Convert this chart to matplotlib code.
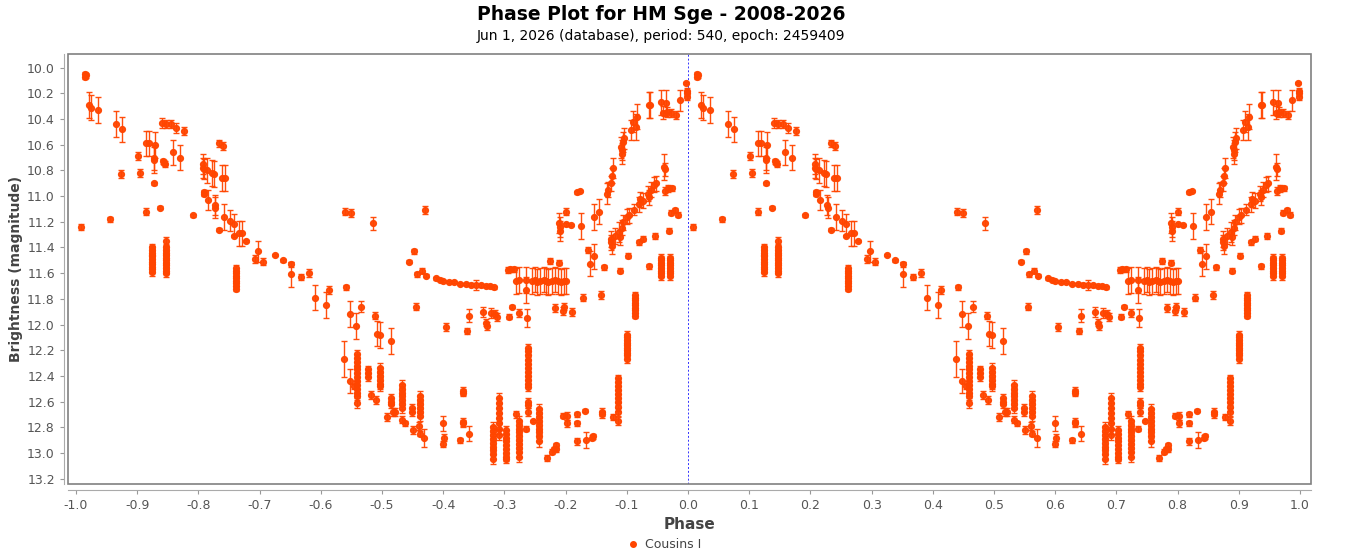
import numpy as np
import matplotlib
matplotlib.use("Agg")
import matplotlib.pyplot as plt
from matplotlib.lines import Line2D
from matplotlib.patches import Rectangle

# observations folded on one cycle (phase -1..0), the plot repeats them at phase+1
phase = [
    -0.992, -0.985, -0.984, -0.985, -0.978, -0.976, -0.964, -0.944, -0.934, -0.924,
    -0.926, -0.898, -0.896, -0.886, -0.886, -0.881, -0.873, -0.871, -0.872, -0.873,
    -0.876, -0.876, -0.876, -0.876, -0.876, -0.876, -0.876, -0.876, -0.876, -0.876, -0.876,
    -0.8625, -0.853,
    -0.853, -0.853, -0.853, -0.853, -0.853, -0.853, -0.853, -0.853, -0.853, -0.853, -0.853,
    -0.860, -0.853, -0.845, -0.836, -0.823, -0.858, -0.856, -0.854, -0.842, -0.830,
    -0.809, -0.792, -0.792, -0.790, -0.786, -0.791, -0.790, -0.784, -0.777, -0.774,
    -0.766, -0.760, -0.773, -0.772, -0.766, -0.762, -0.757, -0.758, -0.749, -0.742,
    -0.742, -0.733, -0.729, -0.722,
    -0.738, -0.738, -0.738, -0.738, -0.738, -0.738, -0.738, -0.738, -0.738,
    -0.707, -0.702, -0.694, -0.675, -0.661, -0.648, -0.648, -0.632, -0.620, -0.610,
    -0.592, -0.587, -0.561, -0.550, -0.515, -0.5595, -0.553, -0.542, -0.535, -0.5115,
    -0.508, -0.503, -0.485, -0.5616, -0.553, -0.546,
    -0.540, -0.540, -0.540, -0.540, -0.540, -0.540, -0.540, -0.540, -0.540, -0.540, -0.540, -0.540, -0.540,
    -0.523, -0.523, -0.523, -0.5175, -0.5105,
    -0.504, -0.504, -0.504, -0.504, -0.504, -0.504,
    -0.491, -0.486, -0.486, -0.486, -0.4816, -0.478,
    -0.4675, -0.4675, -0.4675, -0.4675, -0.4675, -0.4675, -0.4675, -0.467,
    -0.462, -0.4506, -0.4506, -0.449,
    -0.438, -0.438, -0.438, -0.438, -0.438, -0.438, -0.439, -0.438, -0.4305,
    -0.430, -0.447, -0.4555, -0.444, -0.442, -0.434, -0.428,
    -0.412, -0.405, -0.3995, -0.391, -0.383, -0.373, -0.362, -0.354, -0.346, -0.3385,
    -0.330, -0.323, -0.317,
    -0.3946, -0.3576, -0.361, -0.335, -0.330, -0.329, -0.322, -0.3146, -0.3125, -0.292,
    -0.287, -0.276, -0.263,
    -0.2934, -0.291, -0.285, -0.281, -0.276, -0.265, -0.265,
    -0.255, -0.250, -0.246, -0.241, -0.236, -0.232, -0.228, -0.225, -0.222, -0.218,
    -0.213, -0.211, -0.208, -0.203, -0.199,
    -0.368, -0.368, -0.368, -0.368, -0.357, -0.372, -0.401, -0.398, -0.401,
    -0.318, -0.318, -0.318, -0.318, -0.318, -0.318, -0.318, -0.318, -0.318,
    -0.3086, -0.3086, -0.3086, -0.3086, -0.3086, -0.3086, -0.3086, -0.3086,
    -0.2977, -0.2977, -0.2977, -0.2977, -0.2977, -0.2977, -0.2977, -0.2977, -0.2977,
    -0.281,
    -0.2755, -0.2755, -0.2755, -0.2755, -0.2755, -0.2755, -0.2755, -0.2755, -0.2755, -0.2755,
    -0.265,
    -0.2607, -0.2607, -0.2607, -0.2607, -0.2607, -0.2607, -0.2607, -0.2607, -0.2607, -0.2607, -0.2607,
    -0.2607, -0.2607, -0.2607, -0.254,
    -0.2433, -0.2433, -0.2433, -0.2433, -0.2433, -0.2433, -0.2433, -0.2433, -0.2433,
    -0.2307, -0.2226, -0.219, -0.216, -0.216, -0.2035, -0.198, -0.198, -0.182, -0.182,
    -0.182, -0.167, -0.157, -0.155, -0.168, -0.141, -0.141, -0.1224,
    -0.115, -0.115, -0.115, -0.115, -0.115, -0.115, -0.115, -0.115, -0.115, -0.115,
    -0.099, -0.099, -0.099, -0.099, -0.099, -0.099, -0.099, -0.099, -0.099, -0.099,
    -0.086, -0.086, -0.086, -0.086, -0.086, -0.086, -0.086, -0.086, -0.086,
    -0.217, -0.2035, -0.202, -0.189, -0.171, -0.1425, -0.137, -0.1115, -0.0985, -0.0805,
    -0.073, -0.0637, -0.054, -0.0305,
    -0.0446, -0.0446, -0.0446, -0.0446, -0.0446, -0.0446, -0.0446, -0.0446,
    -0.030, -0.030, -0.030, -0.030, -0.030, -0.030, -0.030, -0.030,
    -0.027, -0.021, -0.016, -0.211, -0.209, -0.209, -0.200, -0.199, -0.1915, -0.175,
    -0.182, -0.177, -0.163, -0.1605, -0.154, -0.1535, -0.146,
    -0.133, -0.130, -0.126, -0.124, -0.122, -0.109, -0.1066, -0.105, -0.108, -0.107,
    -0.093, -0.090, -0.085, -0.083, -0.064, -0.0615, -0.0446, -0.040, -0.0354, -0.034,
    -0.028, -0.0196, -0.0125, -0.004, -0.002, -0.002, -0.002,
    -0.126, -0.1246, -0.126, -0.119, -0.113, -0.111, -0.107, -0.1067, -0.099, -0.096,
    -0.0877, -0.0795, -0.078, -0.074, -0.066, -0.0637, -0.060, -0.055, -0.053,
    -0.0386, -0.038, -0.038, -0.033, -0.026,
]
mag = [
    11.24, 10.05, 10.06, 10.07, 10.29, 10.31, 10.33, 11.18, 10.44, 10.48,
    10.83, 10.69, 10.82, 11.12, 10.59, 10.59, 10.70, 10.60, 10.72, 10.90,
    11.40, 11.42, 11.44, 11.46, 11.47, 11.49, 11.51, 11.53, 11.55, 11.57, 11.59,
    11.09, 11.35,
    11.40, 11.42, 11.44, 11.46, 11.48, 11.50, 11.52, 11.54, 11.56, 11.58, 11.60,
    10.43, 10.44, 10.44, 10.47, 10.49, 10.73, 10.74, 10.75, 10.66, 10.70,
    11.15, 10.75, 10.78, 10.79, 10.80, 10.97, 10.98, 11.03, 10.82, 10.83,
    10.59, 10.61, 11.07, 11.09, 11.26, 10.86, 10.86, 11.16, 11.19, 11.22,
    11.31, 11.29, 11.29, 11.35,
    11.56, 11.58, 11.60, 11.62, 11.64, 11.66, 11.68, 11.70, 11.72,
    11.49, 11.43, 11.51, 11.46, 11.50, 11.53, 11.61, 11.63, 11.60, 11.79,
    11.85, 11.73, 11.12, 11.13, 11.21, 11.71, 11.92, 12.01, 11.86, 11.93,
    12.07, 12.08, 12.13, 12.27, 12.44, 12.48,
    12.23, 12.26, 12.29, 12.32, 12.35, 12.38, 12.41, 12.44, 12.47, 12.50, 12.53, 12.56, 12.61,
    12.35, 12.38, 12.41, 12.55, 12.59,
    12.34, 12.37, 12.40, 12.43, 12.46, 12.48,
    12.72, 12.57, 12.60, 12.62, 12.68, 12.68,
    12.47, 12.50, 12.53, 12.56, 12.59, 12.62, 12.65, 12.74,
    12.77, 12.65, 12.68, 12.82,
    12.56, 12.59, 12.62, 12.65, 12.68, 12.71, 12.79, 12.85, 12.88,
    11.11, 11.43, 11.51, 11.86, 11.61, 11.58, 11.62,
    11.64, 11.65, 11.66, 11.67, 11.67, 11.685, 11.686, 11.69, 11.69, 11.695,
    11.70, 11.70, 11.71,
    12.02, 11.93, 12.05, 11.90, 11.985, 12.01, 11.91, 11.915, 11.94, 11.94,
    11.86, 11.91, 11.95,
    11.575, 11.57, 11.57, 11.66, 11.655, 11.655, 11.73,
    11.66, 11.65, 11.67, 11.66, 11.65, 11.66, 11.67, 11.505, 11.66, 11.65,
    11.66, 11.52, 11.67, 11.66, 11.66,
    12.52, 12.53, 12.76, 12.77, 12.85, 12.90, 12.77, 12.88, 12.93,
    12.80, 12.83, 12.86, 12.89, 12.92, 12.95, 12.98, 13.01, 13.05,
    12.57, 12.61, 12.65, 12.69, 12.73, 12.77, 12.81, 12.86,
    12.82, 12.85, 12.88, 12.91, 12.94, 12.97, 13.00, 13.03, 13.05,
    12.70,
    12.75, 12.78, 12.81, 12.84, 12.87, 12.90, 12.93, 12.96, 12.99, 13.03,
    12.81,
    12.18, 12.21, 12.24, 12.28, 12.31, 12.34, 12.37, 12.40, 12.43, 12.46, 12.49,
    12.60, 12.63, 12.68, 12.75,
    12.66, 12.69, 12.72, 12.75, 12.78, 12.81, 12.84, 12.87, 12.91,
    13.04, 12.99, 12.97, 12.94, 12.97, 12.71, 12.71, 12.77, 12.70, 12.77,
    12.91, 12.90, 12.88, 12.87, 12.67, 12.68, 12.70, 12.72,
    12.42, 12.45, 12.48, 12.51, 12.54, 12.57, 12.60, 12.64, 12.68, 12.75,
    12.08, 12.10, 12.12, 12.14, 12.16, 12.18, 12.20, 12.22, 12.24, 12.27,
    11.77, 11.79, 11.81, 11.83, 11.85, 11.87, 11.89, 11.91, 11.93,
    11.87, 11.895, 11.86, 11.90, 11.79, 11.77, 11.555, 11.58, 11.465, 11.36,
    11.33, 11.545, 11.31, 11.27,
    11.48, 11.50, 11.52, 11.54, 11.56, 11.58, 11.60, 11.62,
    11.48, 11.50, 11.52, 11.54, 11.56, 11.58, 11.60, 11.62,
    11.13, 11.11, 11.145, 11.21, 11.24, 11.27, 11.12, 11.22, 11.225, 11.23,
    10.97, 10.96, 11.42, 11.525, 11.47, 11.16, 11.12,
    10.98, 10.95, 10.90, 10.84, 10.78, 10.62, 10.58, 10.55, 10.67, 10.64,
    10.485, 10.42, 10.46, 10.38, 10.29, 10.29, 10.27, 10.35, 10.275, 10.345,
    10.35, 10.37, 10.255, 10.12, 10.18, 10.20, 10.23,
    11.335, 11.39, 11.36, 11.31, 11.28, 11.32, 11.245, 11.205, 11.16, 11.15,
    11.105, 11.065, 11.025, 11.035, 10.98, 11.01, 10.95, 10.91, 10.90,
    10.775, 10.79, 10.96, 10.94, 10.94,
]
err = [
    0.02, 0.02, 0.02, 0.02, 0.10, 0.10, 0.10, 0.02, 0.10, 0.10,
    0.03, 0.03, 0.03, 0.03, 0.10, 0.10, 0.10, 0.10, 0.10, 0.01,
    0.03, 0.03, 0.03, 0.03, 0.03, 0.03, 0.03, 0.03, 0.03, 0.03, 0.03,
    0.01, 0.03,
    0.03, 0.03, 0.03, 0.03, 0.03, 0.03, 0.03, 0.03, 0.03, 0.03, 0.03,
    0.04, 0.03, 0.03, 0.04, 0.03, 0.02, 0.02, 0.02, 0.10, 0.10,
    0.01, 0.08, 0.08, 0.08, 0.10, 0.02, 0.02, 0.08, 0.10, 0.10,
    0.03, 0.03, 0.08, 0.08, 0.01, 0.10, 0.10, 0.10, 0.08, 0.08,
    0.01, 0.10, 0.10, 0.01,
    0.02, 0.02, 0.02, 0.02, 0.02, 0.02, 0.02, 0.02, 0.02,
    0.03, 0.08, 0.03, 0.01, 0.01, 0.02, 0.10, 0.02, 0.03, 0.10,
    0.10, 0.03, 0.03, 0.03, 0.05, 0.02, 0.10, 0.10, 0.04, 0.03,
    0.10, 0.10, 0.10, 0.14, 0.09, 0.02,
    0.03, 0.03, 0.03, 0.03, 0.03, 0.03, 0.03, 0.03, 0.03, 0.03, 0.03, 0.03, 0.04,
    0.03, 0.03, 0.03, 0.03, 0.03,
    0.04, 0.04, 0.04, 0.04, 0.04, 0.04,
    0.03, 0.03, 0.03, 0.03, 0.03, 0.03,
    0.04, 0.04, 0.04, 0.04, 0.04, 0.04, 0.04, 0.03,
    0.02, 0.03, 0.03, 0.03,
    0.04, 0.04, 0.04, 0.04, 0.04, 0.04, 0.03, 0.02, 0.07,
    0.03, 0.02, 0.01, 0.03, 0.02, 0.02, 0.01,
    0.01, 0.01, 0.01, 0.01, 0.01, 0.01, 0.01, 0.01, 0.04, 0.01,
    0.01, 0.01, 0.01,
    0.03, 0.05, 0.02, 0.04, 0.03, 0.03, 0.04, 0.03, 0.03, 0.02,
    0.01, 0.03, 0.07,
    0.02, 0.02, 0.02, 0.10, 0.10, 0.10, 0.10,
    0.10, 0.10, 0.10, 0.10, 0.10, 0.10, 0.10, 0.02, 0.10, 0.10,
    0.10, 0.02, 0.10, 0.10, 0.10,
    0.03, 0.03, 0.03, 0.03, 0.06, 0.02, 0.06, 0.03, 0.02,
    0.04, 0.04, 0.04, 0.04, 0.04, 0.04, 0.04, 0.04, 0.04,
    0.04, 0.04, 0.04, 0.04, 0.04, 0.04, 0.04, 0.04,
    0.03, 0.03, 0.03, 0.03, 0.03, 0.03, 0.03, 0.03, 0.03,
    0.03,
    0.04, 0.04, 0.04, 0.04, 0.04, 0.04, 0.04, 0.04, 0.04, 0.04,
    0.02,
    0.03, 0.03, 0.03, 0.03, 0.03, 0.03, 0.03, 0.03, 0.03, 0.03, 0.03,
    0.03, 0.02, 0.03, 0.01,
    0.04, 0.04, 0.04, 0.04, 0.04, 0.04, 0.04, 0.04, 0.04,
    0.02, 0.02, 0.02, 0.02, 0.02, 0.02, 0.03, 0.03, 0.02, 0.02,
    0.03, 0.06, 0.02, 0.02, 0.01, 0.03, 0.03, 0.02,
    0.03, 0.03, 0.03, 0.03, 0.03, 0.03, 0.03, 0.03, 0.03, 0.03,
    0.03, 0.03, 0.03, 0.03, 0.03, 0.03, 0.03, 0.03, 0.03, 0.03,
    0.02, 0.02, 0.02, 0.02, 0.02, 0.02, 0.02, 0.02, 0.02,
    0.03, 0.03, 0.03, 0.03, 0.03, 0.03, 0.02, 0.02, 0.02, 0.02,
    0.02, 0.02, 0.02, 0.02,
    0.03, 0.03, 0.03, 0.03, 0.03, 0.03, 0.03, 0.03,
    0.03, 0.03, 0.03, 0.03, 0.03, 0.03, 0.03, 0.03,
    0.02, 0.02, 0.02, 0.08, 0.08, 0.08, 0.03, 0.01, 0.01, 0.10,
    0.01, 0.01, 0.02, 0.10, 0.10, 0.10, 0.10,
    0.08, 0.06, 0.06, 0.06, 0.08, 0.08, 0.08, 0.08, 0.08, 0.08,
    0.08, 0.08, 0.10, 0.10, 0.10, 0.10, 0.10, 0.05, 0.10, 0.04,
    0.03, 0.03, 0.08, 0.01, 0.02, 0.02, 0.02,
    0.06, 0.06, 0.06, 0.06, 0.08, 0.06, 0.06, 0.06, 0.06, 0.06,
    0.04, 0.06, 0.06, 0.06, 0.06, 0.06, 0.06, 0.06, 0.06,
    0.10, 0.05, 0.03, 0.03, 0.02,
]

title = "Phase Plot for HM Sge - 2008-2026"
subtitle = "Jun 1, 2026 (database), period: 540, epoch: 2459409"
series_name = "Cousins I"

col = "#ff4500"
grey = "#444444"


def fmt(v):
    s = "%.1f" % v
    return "0.0" if s == "-0.0" else s


ph = np.array(phase)
x = np.concatenate([ph, ph + 1.0])
y = np.concatenate([mag, mag])
e = np.concatenate([err, err])

fig = plt.figure(figsize=(13.53, 5.57), dpi=100)
ax = fig.add_axes([68 / 1353, 73 / 557, (1311 - 68) / 1353, (484 - 54) / 557])

ax.errorbar(x, y, yerr=e, fmt="o", ms=4.2, color=col, ecolor=col,
            elinewidth=1.0, capsize=2.5, capthick=1.0, alpha=0.95, zorder=3)
ax.axvline(0.0, color="#3333ff", lw=0.7, ls=(0, (2, 2)), zorder=2)

ax.set_xlim(-1.013, 1.018)
ax.set_ylim(13.242, 9.893)
xt = np.round(np.arange(-1.0, 1.01, 0.1), 1)
yt = np.round(np.arange(10.0, 13.21, 0.2), 1)
ax.set_xticks(xt)
ax.set_xticklabels([fmt(v) for v in xt])
ax.set_yticks(yt)
ax.set_yticklabels([fmt(v) for v in yt])
ax.tick_params(direction="out", length=3, width=0.8, colors="#999999",
               labelcolor="#555555", labelsize=9)

# plot outline plus detached axis lines
for s in ["top", "right"]:
    ax.spines[s].set_visible(False)
ax.spines["left"].set_position(("outward", 3))
ax.spines["bottom"].set_position(("outward", 4))
ax.spines["left"].set_color("#aaaaaa")
ax.spines["bottom"].set_color("#aaaaaa")
ax.add_patch(Rectangle((0, 0), 1, 1, transform=ax.transAxes, fill=False,
                       ec="#808080", lw=1.2, zorder=5, clip_on=False))

ax.set_xlabel("Phase", fontsize=11, color=grey, fontweight="bold", labelpad=4)
ax.set_ylabel("Brightness (magnitude)", fontsize=10, color=grey,
              fontweight="bold", labelpad=3)

fig.text(661 / 1353, 1 - 14 / 557, title, ha="center", va="center",
         fontsize=13.5, fontweight="bold")
fig.text(661 / 1353, 1 - 36 / 557, subtitle, ha="center", va="center", fontsize=10)

h = Line2D([], [], marker="o", ls="none", color=col, ms=4)
fig.legend([h], [series_name], loc="center", bbox_to_anchor=(664 / 1353, 1 - 545 / 557),
           frameon=False, fontsize=9, handlelength=1, handletextpad=0.5,
           labelcolor=grey)

fig.savefig("out.png", dpi=100)
